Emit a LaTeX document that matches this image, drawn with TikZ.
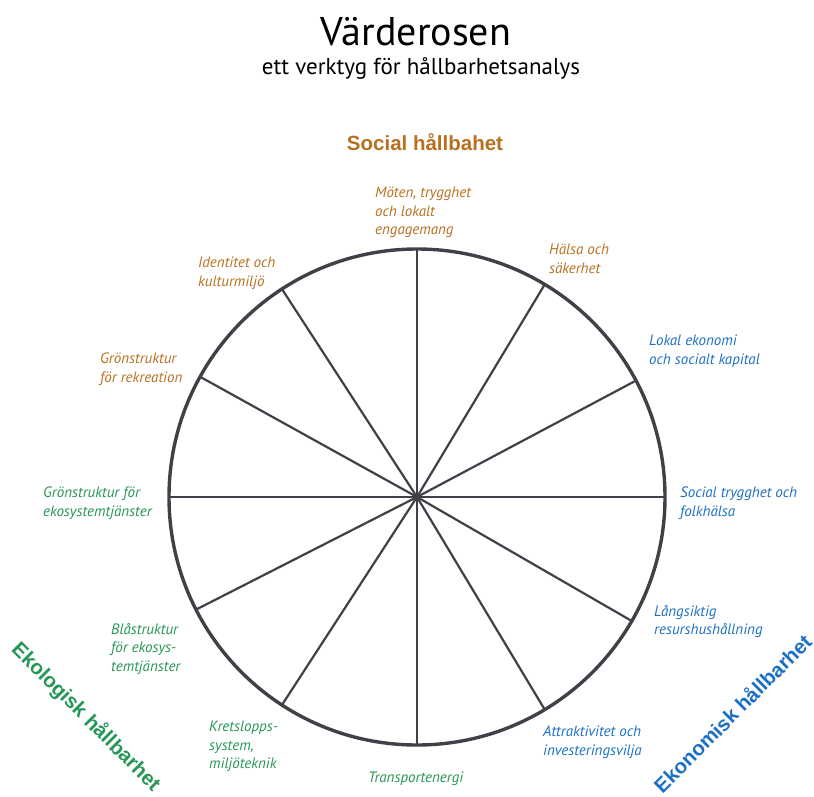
\documentclass[tikz,border=0pt]{standalone}
\usepackage{fontspec}
\setmainfont{PT Sans}
\newfontfamily\headfont{Liberation Sans}
\definecolor{socc}{RGB}{184,112,30}
\definecolor{ecoc}{RGB}{28,112,196}
\definecolor{grnc}{RGB}{38,150,86}
\definecolor{linec}{RGB}{64,64,72}
\tikzset{
  lbl/.style={anchor=north west, inner sep=0pt, align=left, font=\fontsize{15}{18.6}\selectfont\itshape},
  head/.style={inner sep=0pt, font=\headfont\bfseries\fontsize{20.5}{24}\selectfont},
  spoke/.style={draw=linec, line width=2.2pt},
}
\begin{document}
\begin{tikzpicture}[x=1pt,y=-1pt]
\useasboundingbox (0,0) rectangle (814,796);
% title
\node[anchor=base, inner sep=0pt, font=\fontsize{40}{46}\selectfont] (title) at (416,45) {Värderosen};
\node[anchor=base, inner sep=0pt, font=\fontsize{23}{26}\selectfont] (sub) at (421,74) {ett verktyg för hållbarhetsanalys};
% headings
\node[head, anchor=base, text=socc] (hsoc) at (425,150) {Social hållbahet};
\node[head, rotate=-45, text=grnc] (heko) at (86,717) {Ekologisk hållbarhet};
\node[head, rotate=45, text=ecoc] (hekn) at (732,713) {Ekonomisk hållbarhet};
% circle
\coordinate (c) at (417,497);
\foreach \a [count=\i] in {90,57,29,0,-27,-57,-90,-121,-150,180,152,121}
  \draw[spoke] (c) -- ++(\a:-248) coordinate (e\i);
\draw[draw=linec, line width=3.4pt] (c) circle[radius=248];
% labels
\node[lbl, text=socc] (l1) at (375,187) {Möten, trygghet\\och lokalt\\engagemang};
\node[lbl, text=socc] (l2) at (549,244) {Hälsa och\\säkerhet};
\node[lbl, text=ecoc] (l3) at (649,335) {Lokal ekonomi\\och socialt kapital};
\node[lbl, text=ecoc] (l4) at (680,487) {Social trygghet och\\folkhälsa};
\node[lbl, text=ecoc] (l5) at (654,605) {Långsiktig\\resurshushållning};
\node[lbl, text=ecoc] (l6) at (543,726) {Attraktivitet och\\investeringsvilja};
\node[lbl, text=grnc] (l7) at (368,772) {Transportenergi};
\node[lbl, text=grnc] (l8) at (209,721) {Kretslopps-\\system,\\miljöteknik};
\node[lbl, text=grnc] (l9) at (111,623) {Blåstruktur\\för ekosys-\\temtjänster};
\node[lbl, text=grnc] (l10) at (43,487) {Grönstruktur för\\ekosystemtjänster};
\node[lbl, text=socc] (l11) at (100,353) {Grönstruktur\\för rekreation};
\node[lbl, text=socc] (l12) at (198,257) {Identitet och\\kulturmiljö};
\end{tikzpicture}
\end{document}
